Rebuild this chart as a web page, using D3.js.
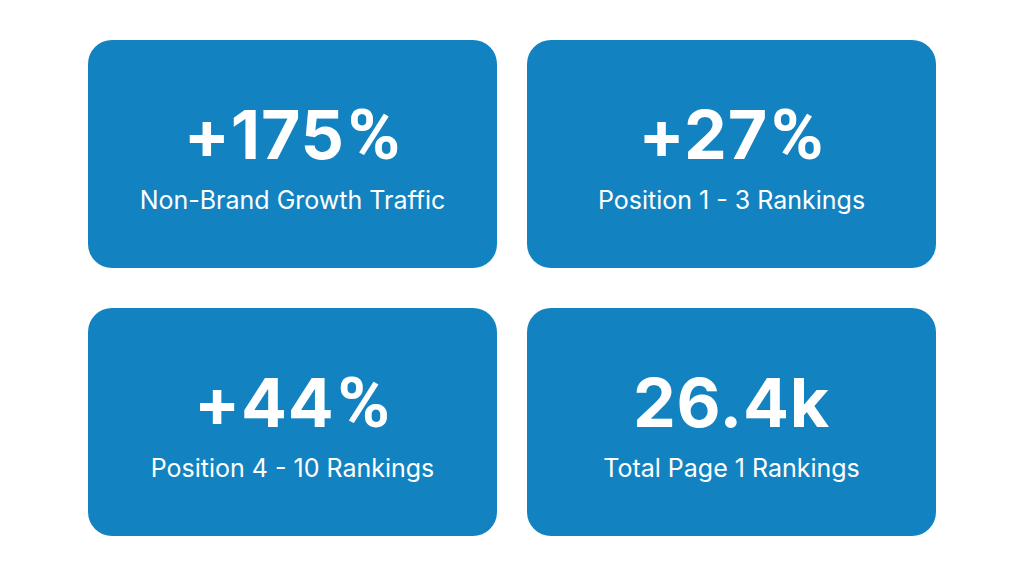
<!DOCTYPE html>
<html>
<head>
<meta charset="utf-8">
<script src="https://cdn.jsdelivr.net/npm/d3@7"></script>
<style>
  html, body { margin: 0; padding: 0; background: #fff; }
</style>
</head>
<body>
<svg id="chart"></svg>
<script>
let values = ["+175%", "+27%", "+44%", "26.4k"];
let labels = ["Non-Brand Growth Traffic", "Position 1 - 3 Rankings", "Position 4 - 10 Rankings", "Total Page 1 Rankings"];
let columns = [0, 1];
let rows = [0, 1];

let width = 1024, height = 576;

let svg = d3.select("#chart")
    .attr("width", width)
    .attr("height", height)
    .style("display", "block");

// card grid
let x = d3.scaleOrdinal().domain(columns).range([88, 527]);
let y = d3.scaleOrdinal().domain(rows).range([40, 308]);
let cardW = 409, cardH = 228;

let cards = svg.selectAll("g.card")
    .data(values.map((v, i) => ({value: v, label: labels[i], col: i % 2, row: Math.floor(i / 2)})))
    .join("g")
        .attr("class", "card")
        .attr("transform", d => `translate(${x(d.col)},${y(d.row)})`);

cards.append("rect")
    .attr("width", cardW)
    .attr("height", cardH)
    .attr("rx", 24)
    .attr("fill", "#1283c0");

let bigText = cards.append("text")
    .attr("x", cardW / 2)
    .attr("y", 119)
    .attr("text-anchor", "middle")
    .attr("font-family", "Inter")
    .attr("font-weight", 700)
    .attr("font-size", 68)
    .attr("letter-spacing", 0.8)
    .attr("fill", "#fff");

bigText.append("tspan")
    .text(d => d.value.replace("%", ""));

// Inter's % is too wide here, Roboto's is closer to the picture
bigText.filter(d => d.value.endsWith("%")).append("tspan")
    .attr("font-family", "Roboto")
    .attr("font-size", 71)
    .attr("dx", 3)
    .text("%");

cards.append("text")
    .attr("x", cardW / 2)
    .attr("y", 169)
    .attr("text-anchor", "middle")
    .attr("font-family", "Inter")
    .attr("font-weight", 400)
    .attr("font-size", 25)
    .attr("fill", "#fff")
    .text(d => d.label);
</script>
</body>
</html>
